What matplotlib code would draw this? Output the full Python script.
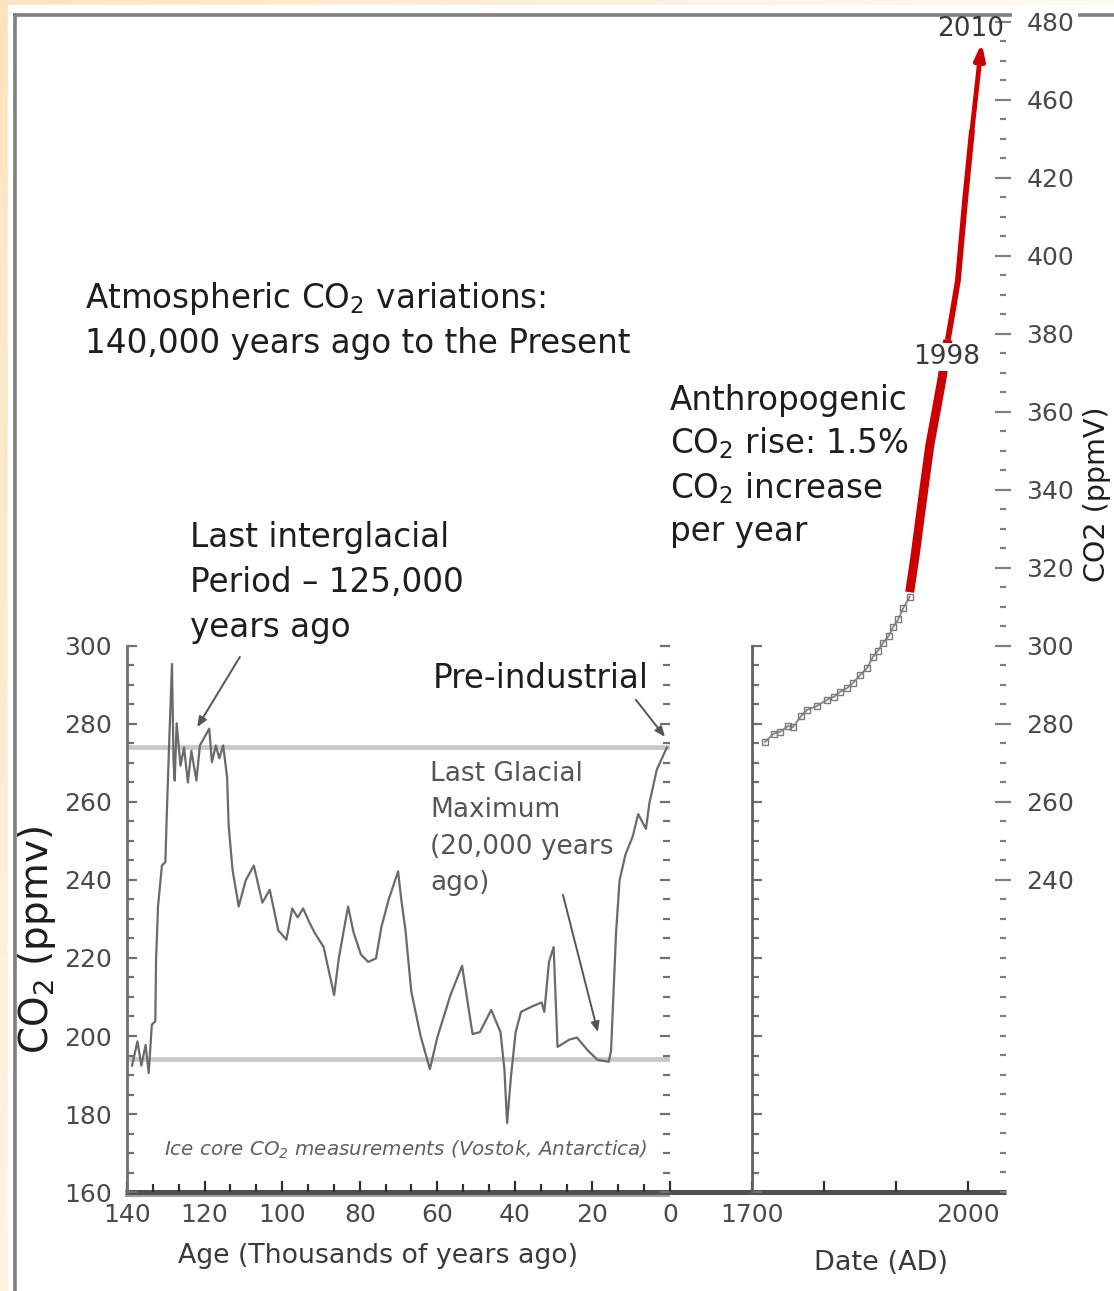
import numpy as np
import matplotlib
matplotlib.use("Agg")
import matplotlib.pyplot as plt
from matplotlib.ticker import MultipleLocator, FixedLocator
from matplotlib.patches import Rectangle

plt.rcParams["font.family"] = ["DejaVu Sans"]
plt.rcParams["mathtext.fontset"] = "dejavusans"
plt.rcParams["mathtext.default"] = "regular"

# ---- data ----
# Vostok ice core, age in thousands of years ago
age_kyr = [138.7, 137.3, 136.3, 135.2, 134.4, 133.6, 132.7, 132.5, 132.0, 131.0,
           130.1, 129.8, 129.3, 128.4, 128.0, 127.7, 127.2, 126.2, 125.3, 124.3,
           123.4, 122.1, 121.2, 118.8, 118.1, 117.1, 116.2, 115.2, 114.2, 113.8,
           112.8, 111.2, 109.4, 107.3, 105.1, 103.2, 101.0, 98.9, 97.4, 96.0,
           94.6, 93.1, 91.7, 89.3, 86.6, 85.4, 83.0, 81.6, 79.7, 77.8,
           75.8, 74.4, 72.5, 70.1, 69.3, 68.2, 66.7, 64.3, 61.9, 60.0,
           56.6, 53.6, 51.8, 50.9, 49.0, 46.1, 43.7, 42.7, 42.0, 41.0,
           39.8, 38.4, 35.5, 33.1, 32.4, 31.2, 30.0, 29.0, 25.9, 24.0,
           21.1, 18.7, 15.8, 15.2, 13.9, 13.0, 11.5, 9.6, 8.2, 6.2,
           5.3, 3.4, 0.8]
co2_ice = [192.4, 198.6, 192.4, 197.7, 190.5, 202.9, 203.8, 219.9, 233.2, 243.7,
           244.6, 255.0, 270.2, 295.4, 270.2, 265.5, 280.2, 269.3, 274.0, 265.0,
           273.1, 265.5, 274.5, 278.8, 270.2, 274.5, 271.2, 274.5, 266.4, 254.1,
           242.7, 233.2, 239.9, 243.7, 234.2, 237.5, 227.1, 224.7, 232.7, 230.4,
           232.7, 229.4, 226.6, 222.8, 210.5, 219.9, 233.2, 226.6, 220.9, 219.0,
           219.9, 228.0, 235.1, 242.2, 235.1, 227.1, 211.4, 200.0, 191.5, 199.6,
           210.5, 218.0, 206.2, 200.5, 201.0, 206.7, 201.0, 191.5, 177.7, 189.6,
           201.0, 206.2, 207.6, 208.6, 206.2, 219.0, 222.8, 197.2, 199.1, 199.6,
           196.2, 193.9, 193.4, 196.2, 226.6, 239.9, 246.5, 251.2, 256.9, 253.1,
           259.8, 268.3, 274.0]

interglacial_level = 274
glacial_level = 194

# historical record (grey, with markers)
year_hist = [1718, 1730, 1739, 1750, 1757, 1768, 1776, 1790, 1804, 1814, 1822,
             1832, 1840, 1850, 1860, 1868, 1875, 1882, 1890, 1896, 1903, 1910, 1919]
co2_hist = [275.4, 277.5, 278.0, 279.5, 279.2, 282.0, 283.6, 284.6, 286.2, 287.0,
            288.2, 289.2, 290.5, 292.5, 294.4, 297.2, 298.8, 300.8, 302.6, 304.9,
            306.8, 309.7, 312.6]

# modern rise (red)
year_ml = [1919, 1926, 1933, 1940, 1947, 1956, 1964, 1972, 1979, 1986, 1996, 2005.6]
co2_ml = [313.8, 322.5, 332.3, 342.0, 351.5, 360.5, 368.7, 378.5, 386.0, 393.8, 414.4, 432.3]
arrow_tip = (2019, 454.6)

left_yticks = [160, 180, 200, 220, 240, 260, 280, 300]
age_ticks = [140, 120, 100, 80, 60, 40, 20, 0]
right_yticks = [240, 260, 280, 300, 320, 340, 360, 380, 400, 420, 440, 460]
right_ylabels = ["240", "260", "280", "300", "320", "340", "360", "380",
                 "400", "420", "460", "480"]
date_ticks = [1700, 1800, 1900, 2000]
date_labels = ["1700", "", "", "2000"]

# ---- figure in pixel layout ----
W, H = 1114, 1291
fig = plt.figure(figsize=(W / 100, H / 100), dpi=100)


def rect(x0, y0, x1, y1):
    return [x0 / W, 1 - y1 / H, (x1 - x0) / W, (y1 - y0) / H]


# background / frame
bg = fig.add_axes([0, 0, 1, 1], zorder=0)
bg.set_xlim(0, W)
bg.set_ylim(H, 0)
bg.axis("off")
gx = np.linspace(0, 1, 200)[None, :]
gy = np.linspace(0, 1, 200)[:, None]
a = np.clip(1 - 0.85 * gx - 0.55 * gy, 0, 1)[..., None]
peach = np.array([253, 228, 190]) / 255
grad = 1 - a * (1 - peach)
bg.imshow(grad, extent=[0, W, H, 0], aspect="auto", zorder=0)
bg.add_patch(Rectangle((8, 5), W, H, color="white", zorder=1))
bg.plot([14.5, 14.5], [13, H], color="#808080", lw=2.6, zorder=2, solid_capstyle="butt")
bg.plot([13, 1012], [14.5, 14.5], color="#808080", lw=2.6, zorder=2, solid_capstyle="butt")
bg.plot([1078, W], [14.5, 14.5], color="#808080", lw=2.6, zorder=2, solid_capstyle="butt")
# thick bottom bar shared by both panels
bg.plot([125, 1006], [1192, 1192], color="#505050", lw=3.6, zorder=2, solid_capstyle="butt")
bg.plot([125, 670], [1196, 1196], color="#a0a0a0", lw=1.5, zorder=2, solid_capstyle="butt")

tick_font = 18
tick_col = "#4a4a4a"

# ---- left panel: ice core ----
axl = fig.add_axes(rect(127, 646, 670, 1192), zorder=3)
axl.set_facecolor("none")
axl.set_xlim(140, 0)
axl.set_ylim(160, 300)
axl.axhline(interglacial_level, color="#c8c8c8", lw=3.4, zorder=1)
axl.axhline(glacial_level, color="#c8c8c8", lw=3.4, zorder=1)
axl.plot(age_kyr, co2_ice, color="#6a6a6a", lw=1.6, zorder=2, clip_on=False)
for s in ["top", "right", "bottom"]:
    axl.spines[s].set_visible(False)
axl.spines["left"].set_color("#707070")
axl.spines["left"].set_linewidth(2)
axl.yaxis.set_major_locator(FixedLocator(left_yticks))
axl.yaxis.set_minor_locator(MultipleLocator(5))
axl.xaxis.set_major_locator(FixedLocator(age_ticks))
axl.xaxis.set_minor_locator(MultipleLocator(20 / 3))
axl.tick_params(axis="y", which="both", direction="in", left=True, right=True,
                color="#707070", width=1.6, labelsize=tick_font, labelcolor=tick_col, pad=11)
axl.tick_params(axis="y", which="major", length=7)
axl.tick_params(axis="y", which="minor", length=5)
axl.tick_params(axis="x", which="both", direction="in", color="#303030", width=1.6,
                labelsize=tick_font, labelcolor=tick_col, pad=8)
axl.tick_params(axis="x", which="major", length=8)
axl.tick_params(axis="x", which="minor", length=6)
axl.set_xticklabels([str(t) for t in age_ticks])

# ---- right panel: instrumental record ----
axr = fig.add_axes(rect(752, 14, 1003, 1192), zorder=3)
axr.set_facecolor("none")
axr.set_xlim(1700, 2048.6)
axr.set_ylim(160, 462.05)
axr.plot(year_hist, co2_hist, color="#8a8a8a", lw=1.4, marker="s", ms=4,
         mfc="none", mec="#7a7a7a", mew=1.0, zorder=2)
axr.plot(year_ml[:8], co2_ml[:8], color="#cc0000", lw=6.5, solid_capstyle="butt",
         solid_joinstyle="round", zorder=3)
axr.plot(year_ml[7:], co2_ml[7:], color="#cc0000", lw=4.2, solid_capstyle="butt",
         solid_joinstyle="round", zorder=3)
axr.annotate("", xy=arrow_tip, xytext=(year_ml[-1], co2_ml[-1]),
             arrowprops=dict(arrowstyle="-|>,head_length=0.9,head_width=0.3",
                             color="#cc0000", lw=3.5, shrinkA=0, shrinkB=0),
             zorder=3, annotation_clip=False)
for s in axr.spines.values():
    s.set_visible(False)
axr.yaxis.tick_right()
axr.yaxis.set_major_locator(FixedLocator(right_yticks))
axr.set_yticklabels(right_ylabels)
axr.yaxis.set_minor_locator(MultipleLocator(5))
axr.tick_params(axis="y", which="both", direction="inout", color="#808080", width=1.6,
                labelsize=tick_font, labelcolor=tick_col, pad=11)
axr.tick_params(axis="y", which="major", length=12)
axr.tick_params(axis="y", which="minor", length=4)
axr.xaxis.set_major_locator(FixedLocator(date_ticks))
axr.set_xticklabels(date_labels)
axr.tick_params(axis="x", which="major", direction="in", color="#303030", width=1.6,
                length=8, labelsize=tick_font, labelcolor=tick_col, pad=8)

# left spine of the instrumental panel
axm = fig.add_axes(rect(752, 646, 800, 1192), zorder=3)
axm.set_facecolor("none")
axm.set_ylim(160, 300)
for s in ["top", "right", "bottom"]:
    axm.spines[s].set_visible(False)
axm.spines["left"].set_color("#606060")
axm.spines["left"].set_linewidth(2)
axm.set_xticks([])
axm.yaxis.set_major_locator(MultipleLocator(20))
axm.yaxis.set_minor_locator(MultipleLocator(5))
axm.tick_params(axis="y", which="both", direction="in", color="#707070", width=1.6,
                labelleft=False)
axm.tick_params(axis="y", which="major", length=7)
axm.tick_params(axis="y", which="minor", length=5)

# overlay for text
fg = fig.add_axes([0, 0, 1, 1], zorder=10)
fg.set_xlim(0, W)
fg.set_ylim(H, 0)
fg.axis("off")

# ---- annotations ----
txt = "#1e1e1e"
big = 23.5
fg.text(85, 308, "Atmospheric CO$_2$ variations:", fontsize=big, color=txt, va="baseline")
fg.text(85, 353, "140,000 years ago to the Present", fontsize=big, color=txt, va="baseline")

for y, line in zip([547, 592, 637], ["Last interglacial", "Period \u2013 125,000", "years ago"]):
    fg.text(190, y, line, fontsize=big, color=txt, va="baseline")

fg.text(433, 688, "Pre-industrial", fontsize=big, color=txt, va="baseline")

for y, line in zip([781, 817, 854, 890],
                   ["Last Glacial", "Maximum", "(20,000 years", "ago)"]):
    fg.text(430, y, line, fontsize=19, color="#555555", va="baseline")

for y, line in zip([410, 453, 498, 541],
                   ["Anthropogenic", "CO$_2$ rise: 1.5%", "CO$_2$ increase", "per year"]):
    fg.text(670, y, line, fontsize=big, color=txt, va="baseline")

fg.text(947, 364, "1998", fontsize=19, color="#3a3a3a", ha="center", va="baseline",
        bbox=dict(facecolor="white", edgecolor="none", pad=1))
fg.text(971, 36, "2010", fontsize=19, color="#3a3a3a", ha="center", va="baseline")

fg.text(406, 1156, "Ice core CO$_2$ measurements (Vostok, Antarctica)", fontsize=14.3,
        style="italic", color="#606060", ha="center", va="baseline")
fg.text(378, 1256, "Age (Thousands of years ago)", fontsize=19.3, color="#3a3a3a",
        ha="center", va="center")
fg.text(881, 1263, "Date (AD)", fontsize=19.5, color="#3a3a3a", ha="center", va="center")
fg.text(37, 940, "CO$_2$ (ppmv)", fontsize=28, color=txt, rotation=90,
        ha="center", va="center")
fg.text(1097, 494, "CO2 (ppmV)", fontsize=20.5, color=txt, rotation=90,
        ha="center", va="center")

# arrows
arrow_kw = dict(arrowstyle="-|>,head_length=0.6,head_width=0.25", color="#555555",
                lw=1.4, shrinkA=0, shrinkB=0)
axl.annotate("", xy=(121.9, 279.2), xytext=(110.9, 297.2), arrowprops=arrow_kw,
             annotation_clip=False)
axl.annotate("", xy=(1.3, 276.7), xytext=(8.8, 286.2), arrowprops=arrow_kw,
             annotation_clip=False)
axl.annotate("", xy=(18.6, 201.0), xytext=(27.6, 236.2), arrowprops=arrow_kw,
             annotation_clip=False)

fig.savefig("out.png", dpi=100)
